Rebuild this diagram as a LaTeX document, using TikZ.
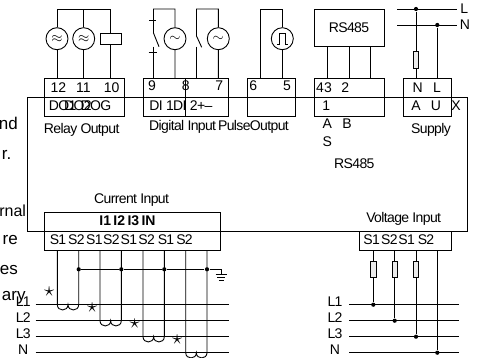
\documentclass[tikz,border=0pt]{standalone}
\usepackage{fontspec}
\setmainfont{Liberation Sans}
\newfontfamily\tightfont[LetterSpace=-4.5]{Liberation Sans}
\usetikzlibrary{shapes,arrows,positioning,calc}
\begin{document}
\begin{tikzpicture}[x=1pt,y=-1pt,line width=0.9pt,
  lbl/.style={anchor=base,inner sep=0pt,font=\fontsize{14}{14}\selectfont\tightfont},
  wide/.style={anchor=base,inner sep=0pt,font=\fontsize{14}{14}\selectfont},
  bigtxt/.style={anchor=base east,inner sep=0pt,font=\fontsize{17}{17}\selectfont},
  src/.style={draw,circle,minimum size=22pt,inner sep=0pt,font=\fontsize{15}{15}\selectfont},
  tbox/.style={draw,rectangle,inner sep=0pt},
  fuse/.style={draw,rectangle,inner sep=0pt,minimum width=5.5pt,minimum height=16.5pt,fill=black!8},
  dot/.style={circle,fill,inner sep=0pt,minimum size=4.2pt}]
 \useasboundingbox (0,0) rectangle (480,358);

 \node[tbox,minimum width=80pt,minimum height=37.5pt] (relay) at (84,97.5) {};
 \node[tbox,minimum width=85.7pt,minimum height=37.5pt] (digital) at (185.85,97.5) {};
 \node[tbox,minimum width=48.4pt,minimum height=37.5pt] (pulse) at (271.5,97.5) {};
 \node[tbox,minimum width=70pt,minimum height=37.5pt] (rsterm) at (349,97.5) {};
 \node[tbox,minimum width=48pt,minimum height=37.5pt] (supply) at (427,97.5) {};
 \node[tbox,minimum width=70pt,minimum height=37.3pt] (rsdev) at (349,27.7) {};
 \node[tbox,minimum width=176pt,minimum height=38pt] (current) at (132,231.7) {};
 \node[tbox,minimum width=91.5pt,minimum height=19pt] (voltage) at (405.25,241.2) {};
 \node[tbox,minimum width=439.7pt,minimum height=134.2pt] (main) at (247.15,164.6) {};
 \draw (185.3,78.7) -- (185.3,116);

 \node[src] (doa) at (57,38.7) {$\approx$};
 \node[src] (dob) at (83.7,38.7) {$\approx$};
 \node[tbox,minimum width=21.3pt,minimum height=11pt] (docoil) at (110.6,38.5) {};
 \coordinate (relaytop) at (0,9);
 \draw (doa) -- (doa |- relaytop) -- (docoil |- relaytop) -- (docoil);
 \draw (dob) -- (dob |- relaytop);
 \foreach \n in {doa,dob,docoil} \draw (\n) -- (\n |- relay.north);

 \node[src] (dia) at (175,38.7) {$\sim$};
 \node[src] (dib) at (218.3,38.7) {$\sim$};
 \coordinate (swa) at (153.5,33);
 \coordinate (swaend) at (159,46.7);
 \coordinate (swalow) at (153.5,46.7);
 \coordinate (swb) at (196.5,36);
 \coordinate (swbend) at (201.7,47.3);
 \coordinate (swblow) at (196.5,46.7);
 \draw (swaend) -- (swa) -- (swa |- relaytop) -- (dia |- relaytop) -- (dia) -- (dia |- digital.north);
 \draw (swbend) -- (swb) -- (swb |- relaytop) -- (dib |- relaytop) -- (dib) -- (dib |- digital.north);
 \draw (swalow) -- (swalow |- digital.north);
 \draw (swblow) -- (swblow |- digital.north);
 \draw[line width=1.3pt] (149.3,20.7) -- (156,20.7);
 \draw (148.5,52.7) -- (157,52.7);

 \node[src] (po) at (282.3,38.7) {};
 \draw (277,44) -- (279.5,44) -- (279.5,33.5) -- (285,33.5) -- (285,44) -- (287.5,44);
 \coordinate (polow) at (260.7,78.7);
 \draw (polow) -- (polow |- relaytop) -- (po |- relaytop) -- (po) -- (po |- pulse.north);

 \foreach \x in {327.7,349,370.3} \draw (\x,46.3) -- (\x,78.7);

 \coordinate (lineL) at (397,9);
 \coordinate (lineLend) at (456.7,9);
 \coordinate (lineN) at (397,25);
 \coordinate (lineNend) at (456.7,25);
 \draw (lineL) -- (lineLend);
 \draw (lineN) -- (lineNend);
 \node[dot] (supL) at (416,9) {};
 \node[dot] (supN) at (437.3,25) {};
 \node[fuse] (supfuse) at (416,60) {};
 \draw (supL) -- (supfuse) -- (supL |- supply.north);
 \draw (supN) -- (supN |- supply.north);

 \node[dot] (gnda) at (78.7,269.3) {};
 \node[dot] (gndb) at (121.3,269.3) {};
 \node[dot] (gndc) at (164.3,269.3) {};
 \node[dot] (gndd) at (207,269.3) {};
 \coordinate (gnd) at (221.7,269.3);
 \draw (gnda) -- (gndb) -- (gndc) -- (gndd) -- (gnd) -- ++(0,5.3);
 \draw (215.7,274.9) -- (226.5,274.9);
 \draw (217,277.6) -- (225.3,277.6);
 \draw (218.8,280.3) -- (223.6,280.3);

 \foreach \y/\t in {304.7/L1,320.7/L2,336.7/L3,352.7/N} {
  \draw (35.7,\y) -- (228.7,\y);
  \draw (349,\y) -- (459,\y);
 }
 \foreach \xa/\xb/\y in {57.3/78.7/304.7,100/121.3/320.7,143/164.3/336.7,185.7/207/352.7} {
  \draw (\xa,250.7) -- (\xa,\y) .. controls (\xa,\y+7) and ({(\xa+\xb)/2},\y+7) .. ({(\xa+\xb)/2},\y)
     .. controls ({(\xa+\xb)/2},\y+7) and (\xb,\y+7) .. (\xb,\y) -- (\xb,250.7);
 }
 \foreach \x/\y/\n in {49.3/291.3/a,92.3/307.3/b,134.7/323.3/c,177.3/339.3/d}
  \node[inner sep=0pt,font=\fontsize{21}{21}\selectfont] (star\n) at (\x,\y) {$\star$};

 \node[fuse] (fusea) at (373.3,269.5) {};
 \node[fuse] (fuseb) at (394.7,269.5) {};
 \node[fuse] (fusec) at (416,269.5) {};
 \node[dot] (va) at (373.3,304.7) {};
 \node[dot] (vb) at (394.7,320.7) {};
 \node[dot] (vc) at (416,336.7) {};
 \node[dot] (vd) at (437.3,352.7) {};
 \draw (va |- voltage.south) -- (fusea) -- (va);
 \draw (vb |- voltage.south) -- (fuseb) -- (vb);
 \draw (vc |- voltage.south) -- (fusec) -- (vc);
 \draw (vd |- voltage.south) -- (vd);

 \foreach \x/\t in {58.3/12,83.3/11,111.7/10,324/43,345.3/2,417.7/N,437/L}
  \node[wide] at (\x,92.7) {\t};
 \foreach \x/\t in {152/9,185.7/8,219.3/7,253.3/6,287/5}
  \node[wide] at (\x,90.7) {\t};
 \foreach \x/\t in {62.6/DO1,78/DO2,96/DOG}
  \node[lbl] at (\x,110.7) {\t};
 \foreach \x/\t in {326.3/1,416/A,436/U,456/X}
  \node[wide] at (\x,110.7) {\t};
 \node[lbl,anchor=base west] (ditxt) at (149,110.7) {DI 1DI 2+–};
 \node[lbl] (relaytxt) at (81.7,133.3) {Relay Output};
 \node[lbl,anchor=base west] (digtxt) at (148.7,130.7) {Digital Input};
 \node[lbl,anchor=base east] (pulsetxt) at (289.3,130.7) {PulseOutput};
 \node[lbl] (rsdevtxt) at (349,32.7) {RS485};
 \node[lbl] (rstxt) at (354.3,168.7) {RS485};
 \node[wide] (atxt) at (327.3,129) {A};
 \node[wide] (btxt) at (347,129) {B};
 \node[wide] (stxt) at (327.3,147) {S};
 \node[lbl] (supplytxt) at (431,133.3) {Supply};
 \node[wide] (ltxt) at (464.3,14) {L};
 \node[wide] (ntxt) at (465,30) {N};

 \node[lbl] (curtxt) at (131.6,204) {Current Input};
 \node[wide,font=\fontsize{14}{14}\selectfont\bfseries] (itxt) at (127.5,225.7) {I1\,I2\,I3\,IN};
 \foreach \x/\t in {58/S1,76.3/S2,94.3/S1,111.3/S2,128.8/S1,146.7/S2,166/S1,184.5/S2,371.7/S1,389.3/S2,406.7/S1,426/S2}
  \node[lbl] at (\x,245) {\t};
 \node[lbl] (volttxt) at (403.7,223) {Voltage Input};

 \foreach \y/\t in {306.7/L1,322.3/L2,338.7/L3,355/N} {
  \node[lbl] at (23.3,\y) {\t};
  \node[lbl] at (335,\y) {\t};
 }

 \node[bigtxt] (cuta) at (18.3,130) {nd};
 \node[bigtxt] (cutb) at (11.7,160) {r.};
 \node[bigtxt,font=\fontsize{16}{16}\selectfont] (cutc) at (26.5,217) {rnal};
 \node[bigtxt] (cutd) at (18.3,244.7) {re};
 \node[bigtxt] (cute) at (18.3,274.7) {es};
 \node[bigtxt] (cutf) at (26,300.7) {ary};
\end{tikzpicture}
\end{document}
